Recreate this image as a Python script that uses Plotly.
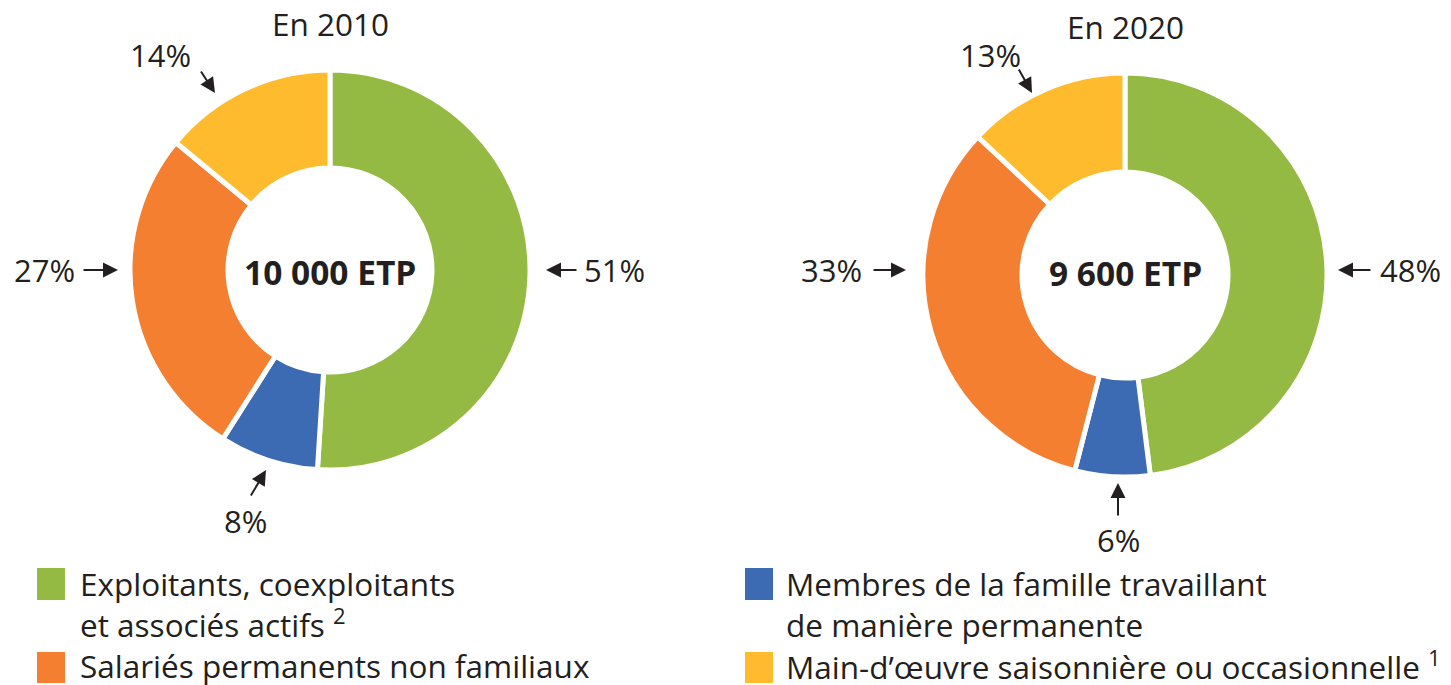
import plotly.graph_objects as go

W, H = 1451, 685
OFF = 8  # default page body margin
FW, FH = W - OFF, H - OFF

categories = [
    "Exploitants, coexploitants et associés actifs",
    "Membres de la famille travaillant de manière permanente",
    "Salariés permanents non familiaux",
    "Main-d’œuvre saisonnière ou occasionnelle",
]
values_2010 = [51, 8, 27, 14]
values_2020 = [48, 6, 33, 13]
totals = ["10 000 ETP", "9 600 ETP"]
years = ["En 2010", "En 2020"]
colors = ["#95BA43", "#3D6BB3", "#F47F31", "#FDBB2D"]

FONT = "Open Sans"
TXT = "#231F20"


def px(x):
    return (x - OFF) / FW


def py(y):
    return 1 - (y - OFF) / FH


fig = go.Figure()

# donut geometry (pixels): center x, center y, radius
donuts = [(330, 270, 200), (1125, 275, 202)]
for vals, (cx, cy, r) in zip([values_2010, values_2020], donuts):
    fig.add_trace(go.Pie(
        labels=categories, values=vals, sort=False, direction="clockwise",
        rotation=0, hole=0.51, textinfo="none", hoverinfo="label+percent",
        marker=dict(colors=colors, line=dict(color="white", width=5)),
        domain=dict(x=[px(cx - r), px(cx + r)], y=[py(cy + r), py(cy - r)]),
        showlegend=False,
    ))

ann = []
# titles and centre totals
for (cx, cy, r), t, tot, ty, cty in zip(donuts, years, totals, [24, 27], [272, 273]):
    ann.append(dict(x=px(cx), y=py(ty), text=t, showarrow=False, xanchor="center",
                    yanchor="middle", font=dict(size=31.5, color=TXT, family=FONT)))
    ann.append(dict(x=px(cx), y=py(cty), text=f"<b>{tot}</b>", showarrow=False,
                    xanchor="center", yanchor="middle",
                    font=dict(size=33.5, color=TXT, family=FONT)))

# percentage labels: (value, text centre) and arrows (tail -> head)
label_specs = [
    # 2010
    (values_2010[0], (614, 270), (578, 270), (546, 270)),
    (values_2010[1], (245, 521), (250, 497), (266, 470)),
    (values_2010[2], (44, 270), (82, 270), (118, 270)),
    (values_2010[3], (160, 55), (200, 70), (215, 93)),
    # 2020
    (values_2020[0], (1410, 270), (1372, 270), (1338, 270)),
    (values_2020[1], (1118, 540), (1118, 517), (1118, 483)),
    (values_2020[2], (832, 270), (872, 270), (906, 270)),
    (values_2020[3], (990, 55), (1018, 68), (1032, 93)),
]
for v, (tx, ty), (ax_, ay_), (hx, hy) in label_specs:
    ann.append(dict(x=px(tx), y=py(ty), text=f"{v}%", showarrow=False,
                    xanchor="center", yanchor="middle",
                    font=dict(size=31, color=TXT, family=FONT)))
    ann.append(dict(x=px(hx), y=py(hy), text="", showarrow=True,
                    ax=ax_ - hx, ay=ay_ - hy, arrowhead=2, arrowsize=1.5,
                    arrowwidth=2, arrowcolor=TXT))

# legend
legend_items = [
    (0, 37, 568, 600, 78, 604, "Exploitants, coexploitants<br>et associés actifs <sup>2</sup>"),
    (2, 37, 652, 683, 78, 665, "Salariés permanents non familiaux"),
    (1, 745, 568, 600, 784, 604, "Membres de la famille travaillant<br>de manière permanente"),
    (3, 745, 652, 683, 784, 665, "Main-d’œuvre saisonnière ou occasionnelle <sup>1</sup>"),
]
shapes = []
for ci, x0, y0, y1, tx, ty, text in legend_items:
    shapes.append(dict(type="rect", xref="paper", yref="paper",
                       x0=px(x0), x1=px(x0 + 28), y0=py(y1), y1=py(y0),
                       fillcolor=colors[ci], line=dict(width=0)))
    ann.append(dict(x=px(tx), y=py(ty), xanchor="left", yanchor="middle", align="left",
                    text=text, showarrow=False,
                    font=dict(size=31.5, color=TXT, family=FONT)))

fig.update_layout(
    width=FW, height=FH, margin=dict(l=0, r=0, t=0, b=0),
    paper_bgcolor="white", plot_bgcolor="white",
    annotations=ann, shapes=shapes, showlegend=False,
)

fig.write_html("out.html")
